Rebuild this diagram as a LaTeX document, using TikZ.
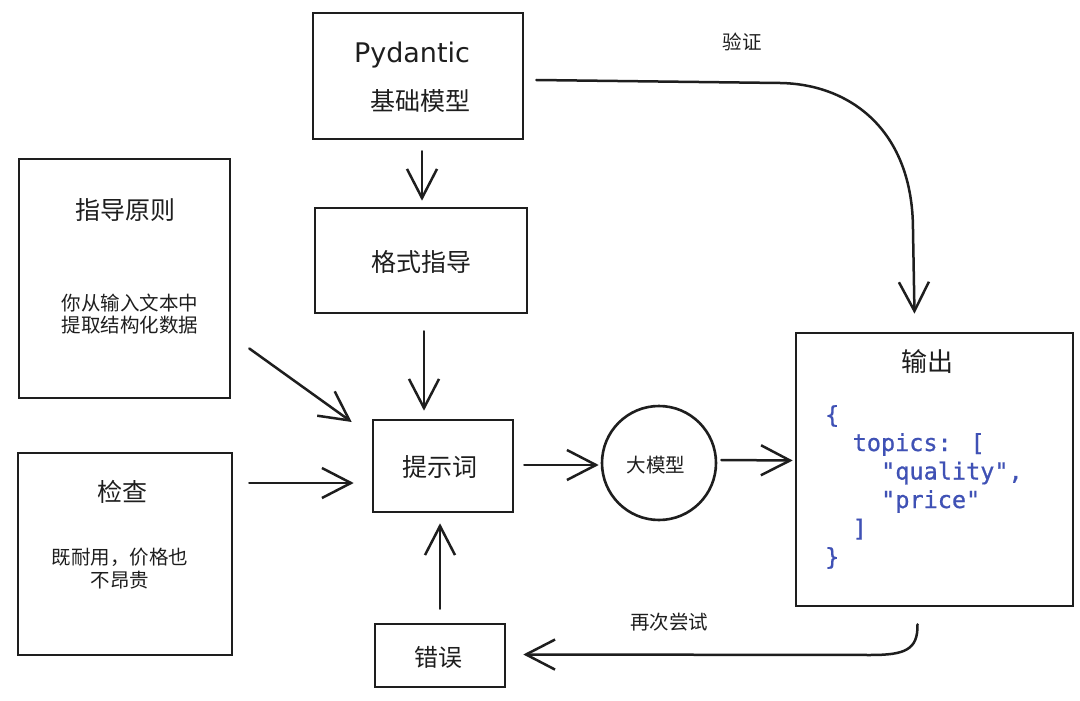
\documentclass[tikz,border=0pt]{standalone}
\usepackage{fontspec}
\setmainfont{Noto Sans CJK SC}
\newfontfamily\codefont{DejaVu Sans Mono}[FakeBold=0.8]
\newfontfamily\handfont{DejaVu Sans}
\usetikzlibrary{arrows.meta,calc}
\definecolor{codeblue}{HTML}{3F51B5}
\definecolor{ink}{HTML}{1E1E1E}
\begin{document}
\begin{tikzpicture}[x=1pt,y=-1pt,
  box/.style={draw=ink,line width=2.6pt,rectangle,inner sep=0pt},
  arr/.style={draw=ink,line width=2.5pt,line cap=round,-{Straight Barb[length=29pt,width=30pt,line width=2.5pt]}},
  big/.style={text=ink,inner sep=0pt,font=\fontsize{25}{28}\selectfont},
  small/.style={text=ink,inner sep=0pt,align=center,font=\fontsize{19.5}{22.5}\selectfont},
  code/.style={anchor=base west,inner sep=0pt,font=\codefont\fontsize{23.5}{28}\selectfont,text=codeblue},
]
\useasboundingbox (0,0) rectangle (1080,701);
\fill[white] (0,0) rectangle (1080,701);

% boxes
\node[box,minimum width=210pt,minimum height=126pt] (pyd) at (418,76) {};
\node[box,minimum width=211pt,minimum height=239pt] (guide) at (124.5,278.5) {};
\node[box,minimum width=214pt,minimum height=202pt] (check) at (125,554) {};
\node[box,minimum width=212pt,minimum height=105pt] (fmt) at (421,260.5) {};
\node[box,minimum width=140pt,minimum height=92pt] (prompt) at (443,466) {};
\node[draw=ink,line width=2.6pt,circle,minimum size=114pt,inner sep=0pt] (llm) at (659,463) {};
\node[box,minimum width=277pt,minimum height=273pt] (out) at (934.5,469.5) {};
\node[box,minimum width=130pt,minimum height=63pt] (err) at (440,655.5) {};

% texts
\node[text=ink,inner sep=0pt,font=\handfont\fontsize{27}{30}\selectfont] (pydt) at (412,55) {Pydantic};
\node[big] (pydb) at (420,101) {基础模型};
\node[big] (guidet) at (125,210) {指导原则};
\node[small] (guideb) at (130,314) {你从输入文本中\\提取结构化数据};
\node[big] (checkt) at (122,492) {检查};
\node[small] (checkb) at (120,568.5) {既耐用，价格也\\不昂贵};
\node[big] (fmtt) at (421,262) {格式指导};
\node[big] (promptt) at (440,467) {提示词};
\node[small] (llmt) at (656,465) {大模型};
\node[big,font=\fontsize{26}{28}\selectfont] (outt) at (927,362) {输出};
\node[big,font=\fontsize{24}{28}\selectfont] (errt) at (438,657) {错误};
\node[small] (lblv) at (742,42) {验证};
\node[small] (lblr) at (669,622) {再次尝试};

% code
\node[code] (c1) at (825,423) {\{};
\node[code] (c2) at (852.5,451) {topics: [};
\node[code] (c3) at (881,479.5) {"quality",};
\node[code] (c4) at (881,508) {"price"};
\node[code] (c5) at (852.5,536.5) {]};
\node[code] (c6) at (825,565) {\}};

% connectors
\draw[arr] ($(pyd.south)+(4,11)$) -- ($(fmt.north)+(1,-6)$);
\draw[arr] ($(fmt.south)+(3,17)$) -- ($(prompt.north)+(-19,-8)$);
\draw[arr] ($(guide.east)+(18,70)$) -- ($(prompt.west)+(-20,-44)$);
\draw[arr] ($(check.east)+(16,-71)$) -- ($(prompt.west)+(-18,17)$);
\draw[arr] ($(err.north)+(0,-14)$) -- ($(prompt.south)+(-3,10)$);
\draw[arr] ($(prompt.east)+(10,-1)$) -- ($(llm.west)+(-2,2)$);
\draw[arr] ($(llm.east)+(4,-3)$) -- ($(out.west)+(-2,-9)$);
\draw[arr] ($(pyd.east)+(12,4)$) -- (780,83) .. controls (850,84) and (913,130) .. (913,230) -- ($(out.north)+(-20,-18)$);
\draw[arr] ($(out.south)+(-17,17)$) .. controls (918,650) and (905,655) .. (870,655) -- ($(err.east)+(17,-1)$);
\end{tikzpicture}
\end{document}
